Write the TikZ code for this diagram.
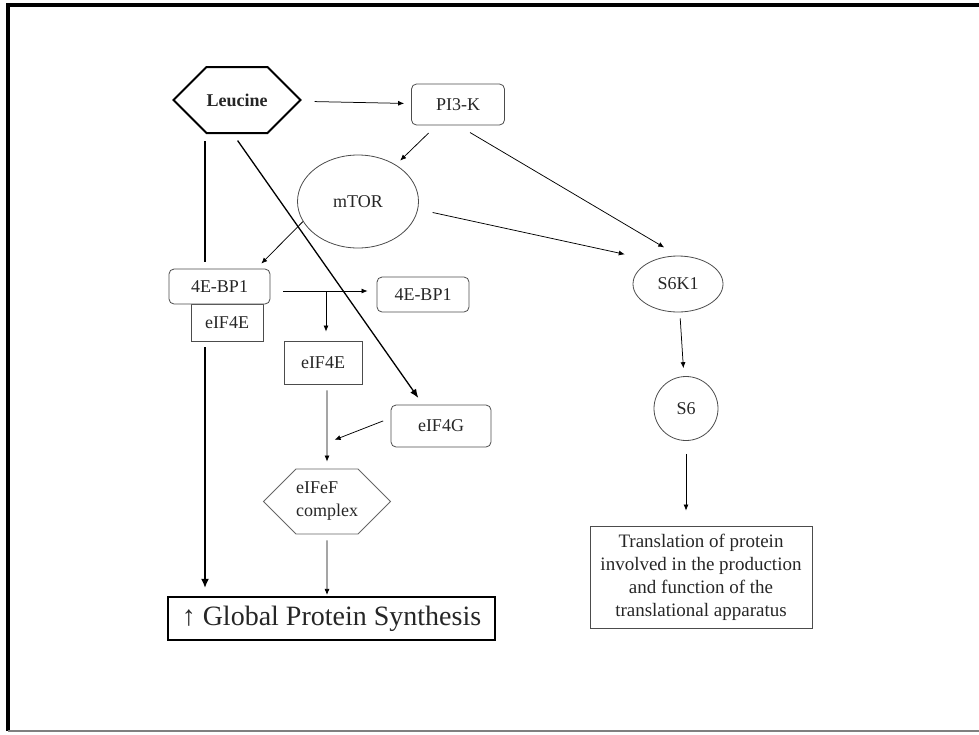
\documentclass[tikz,border=0pt]{standalone}
\usepackage{fontspec}
\setmainfont{Liberation Serif}
\usetikzlibrary{arrows.meta,calc,shapes.geometric,shapes.symbols}

\begin{document}
\begin{tikzpicture}[x=1pt,y=-1pt,
    every node/.style={font=\fontsize{18}{23}\selectfont, text=black!85},
    box/.style={draw=black!70, line width=0.8pt, inner sep=0pt},
    rbox/.style={box, rounded corners=5pt},
    hexa/.style={draw, signal, signal to=west and east, inner sep=0pt},
    arr/.style={-{Latex[length=6pt,width=5pt]}, line width=0.75pt},
    bigarr/.style={-{Latex[length=9pt,width=8pt]}, line width=1.6pt}]
    \useasboundingbox (0,0) rectangle (979,734);
    % frame
    \draw[line width=4pt] (8,731) -- (8,5) -- (979,5);
    \draw[black!50, line width=1.5pt] (8,731) -- (979,731);

    % nodes
    \node[hexa, line width=2pt, minimum width=122pt, minimum height=66pt, font=\bfseries\fontsize{18}{23}\selectfont] (leu) at (237,100) {Leucine};
    \node[rbox, minimum width=93pt, minimum height=41pt] (pi3k) at (458,104.5) {PI3-K};
    \node[box, ellipse, minimum width=121pt, minimum height=93pt] (mtor) at (358,201.5) {mTOR};
    \node[box, ellipse, minimum width=90pt, minimum height=56pt] (s6k1) at (678,284) {S6K1};
    \node[box, circle, minimum size=64pt] (s6) at (686,408.5) {S6};
    \node[box, minimum width=222pt, minimum height=102pt, align=center, font=\fontsize{19}{23}\selectfont] (trans) at (701,577)
        {Translation of protein\\involved in the production\\and function of the\\translational apparatus};
    \node[box, minimum width=72pt, minimum height=37pt] (eif4ea) at (227,322.5) {eIF4E};
    \node[rbox, fill=white, minimum width=101pt, minimum height=35pt] (bp1a) at (219.5,286.5) {4E-BP1};
    \node[rbox, minimum width=92pt, minimum height=35pt] (bp1b) at (423,294.5) {4E-BP1};
    \node[box, minimum width=78pt, minimum height=43pt] (eif4eb) at (323,362.5) {eIF4E};
    \node[rbox, minimum width=100pt, minimum height=42pt] (eif4g) at (441,426) {eIF4G};
    \node[hexa, draw=black!60, line width=0.8pt, minimum width=127pt, minimum height=65pt, align=left] (cplx) at (327,501.5) {eIFeF\\complex};
    \node[box, draw=black, line width=2.2pt, minimum width=327pt, minimum height=43pt, font=\fontsize{28}{32}\selectfont] (glob) at (331.5,618.5) {↑ Global Protein Synthesis};

    % connectors
    \coordinate (lx) at ($(leu.south)+(-32,0)$);
    \draw[line width=1.6pt, shorten <=7pt, shorten >=7pt] (lx) -- (lx |- bp1a.north);
    \draw[bigarr, shorten <=6pt, shorten >=8pt] (lx |- eif4ea.south) -- (lx |- glob.north);
    \draw[arr, shorten <=14pt, shorten >=7pt] (leu) -- (pi3k);
    \draw[arr, shorten <=11pt, shorten >=6pt] (pi3k) -- (mtor);
    \draw[arr, shorten <=14pt, shorten >=16pt] (pi3k.south) -- (s6k1.north);
    \draw[arr, shorten <=14pt, shorten >=8pt] ($(mtor.east)+(0,8)$) -- ($(s6k1.west)+(0,-28)$);
    \draw[arr, shorten <=6pt, shorten >=8pt] (s6k1) -- (s6);
    \draw[arr, shorten <=13pt, shorten >=15pt] (s6) -- (s6 |- trans.north);
    \draw[arr, shorten >=7pt] (mtor.200) -- ($(bp1a.north east)+(-14,0)$);
    \draw[-{Latex[length=9pt,width=7pt]}, line width=1.3pt, shorten <=8pt, shorten >=8pt]
        ($(leu.south)+(-4,0)$) -- ($(eif4g.north)+(-18,0)$);
    \coordinate (split) at (326,291);
    \draw[arr, shorten <=13pt, shorten >=9pt] (split -| bp1a.east) -- (split -| bp1b.west);
    \draw[arr, shorten >=9pt] (split) -- (split |- eif4eb.north);
    \draw[arr, shorten <=6pt, shorten >=7pt] (cplx |- eif4eb.south) -- (cplx);
    \coordinate (join) at (329,442);
    \draw[arr, shorten <=8pt, shorten >=6pt] ($(eif4g.west)+(0,-8)$) -- (join);
    \draw[arr, shorten <=6pt, shorten >=1pt] (cplx) -- (cplx |- glob.north);
\end{tikzpicture}
\end{document}
